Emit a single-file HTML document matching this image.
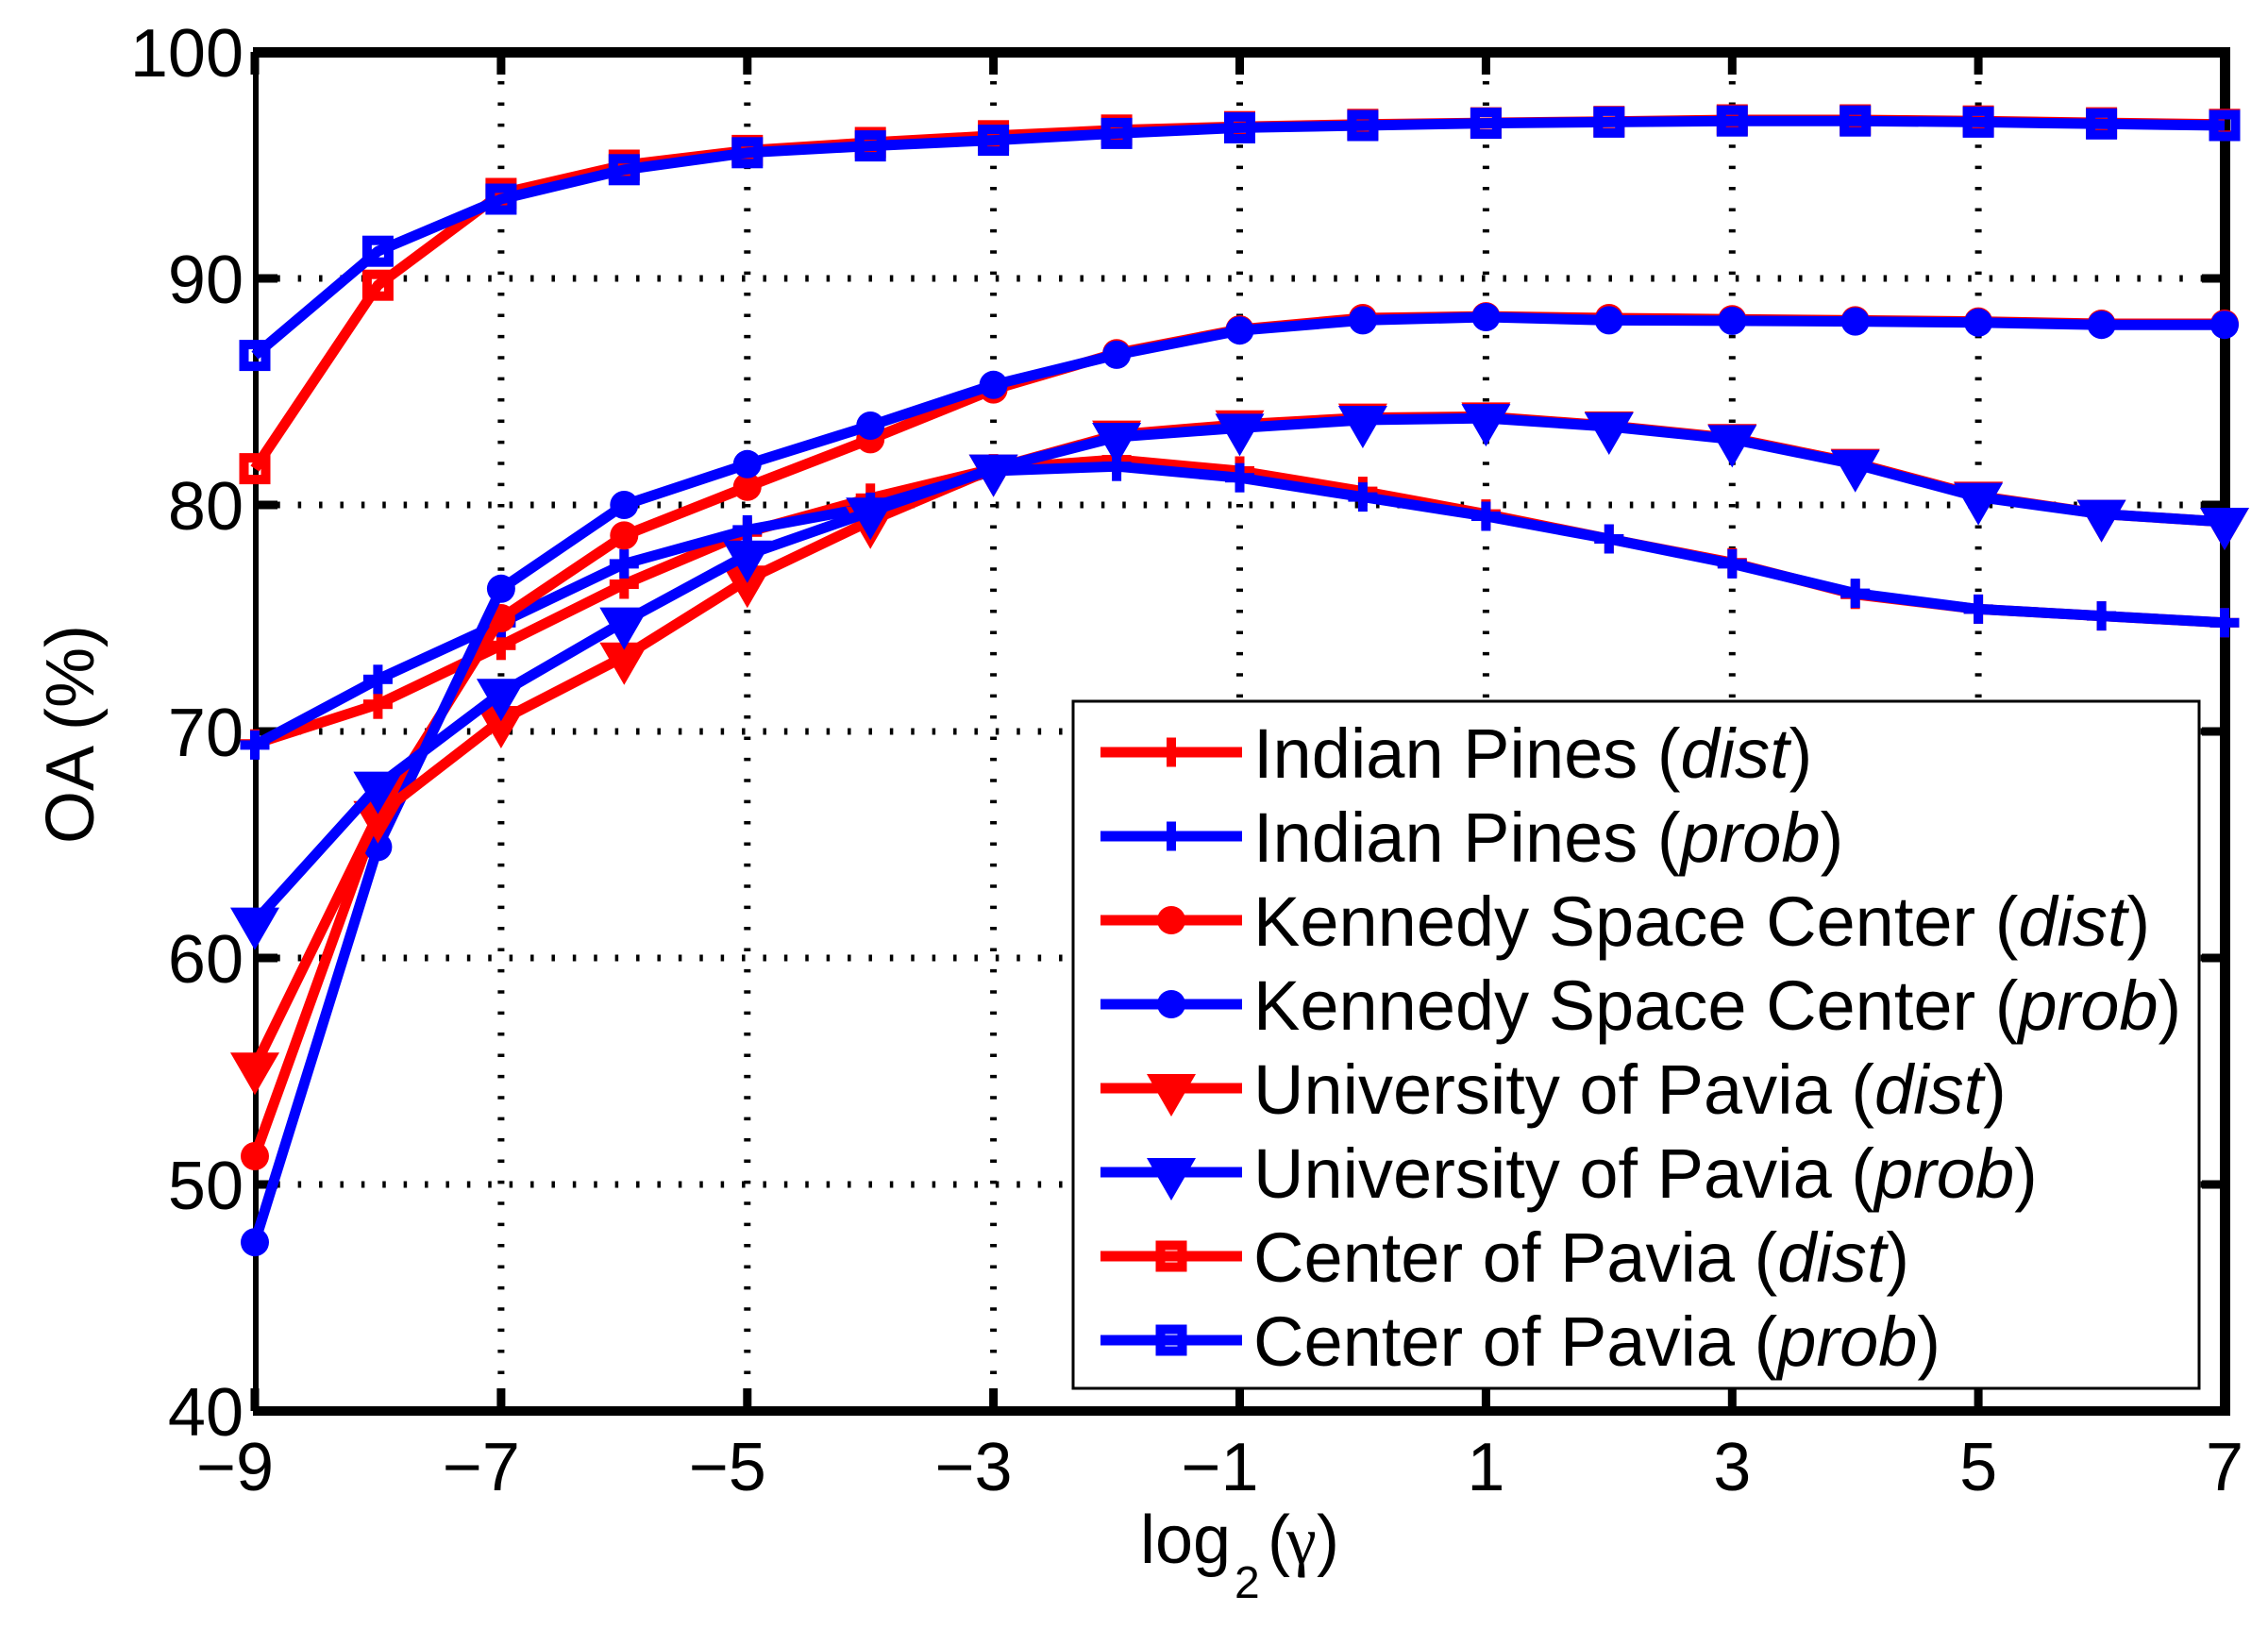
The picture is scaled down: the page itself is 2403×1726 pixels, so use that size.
<!DOCTYPE html>
<html><head><meta charset="utf-8"><style>
html,body{margin:0;padding:0;background:#fff;}
svg{display:block;}
text{font-family:"Liberation Sans",Arial,sans-serif;fill:#000;}
</style></head><body>
<svg width="2403" height="1726" viewBox="0 0 2403 1726" xmlns="http://www.w3.org/2000/svg">
<defs>
<g id="plus"><rect x="-5" y="-15.5" width="10" height="31"/><rect x="-15.5" y="-5" width="31" height="10"/></g>
<circle id="circ" r="15"/>
<path id="tri" d="M-26,-15 L26,-15 L0,30 Z"/>
<rect id="sq" x="-11.5" y="-11.5" width="23" height="23" fill="none" stroke-width="10"/>
</defs>
<rect width="2403" height="1726" fill="#fff"/>

<!-- grid -->
<g stroke="#000" stroke-width="7" stroke-dasharray="3.5 18.9" fill="none">
<path d="M530.9,63.65V1488 M791.8,63.65V1488 M1052.6,63.65V1488 M1313.5,63.65V1488 M1574.4,63.65V1488 M1835.3,63.65V1488 M2096.1,63.65V1488"/>
<path d="M293.25,1255H2350 M293.25,1015H2350 M293.25,775H2350 M293.25,535H2350 M293.25,295H2350"/>
</g>

<!-- frame -->
<g fill="#000">
<rect x="268" y="50" width="2095" height="11"/>
<rect x="268" y="1490" width="2095" height="10"/>
<rect x="268" y="50" width="6" height="1450"/>
<rect x="2352" y="50" width="11" height="1450"/>
<!-- x ticks -->
<rect x="265.5" y="1471" width="9" height="24"/><rect x="526.4" y="1471" width="9" height="24"/><rect x="787.3" y="1471" width="9" height="24"/><rect x="1048.1" y="1471" width="9" height="24"/><rect x="1309" y="1471" width="9" height="24"/><rect x="1569.9" y="1471" width="9" height="24"/><rect x="1830.8" y="1471" width="9" height="24"/><rect x="2091.6" y="1471" width="9" height="24"/><rect x="2352.5" y="1471" width="9" height="24"/>
<rect x="265.5" y="55" width="9" height="24"/><rect x="526.4" y="55" width="9" height="24"/><rect x="787.3" y="55" width="9" height="24"/><rect x="1048.1" y="55" width="9" height="24"/><rect x="1309" y="55" width="9" height="24"/><rect x="1569.9" y="55" width="9" height="24"/><rect x="1830.8" y="55" width="9" height="24"/><rect x="2091.6" y="55" width="9" height="24"/><rect x="2352.5" y="55" width="9" height="24"/>
<!-- y ticks -->
<rect x="270" y="50.5" width="24" height="9"/><rect x="270" y="290.5" width="24" height="9"/><rect x="270" y="530.5" width="24" height="9"/><rect x="270" y="770.5" width="24" height="9"/><rect x="270" y="1010.5" width="24" height="9"/><rect x="270" y="1250.5" width="24" height="9"/><rect x="270" y="1490.5" width="24" height="9"/>
<rect x="2333" y="50.5" width="24" height="9"/><rect x="2333" y="290.5" width="24" height="9"/><rect x="2333" y="530.5" width="24" height="9"/><rect x="2333" y="770.5" width="24" height="9"/><rect x="2333" y="1010.5" width="24" height="9"/><rect x="2333" y="1250.5" width="24" height="9"/><rect x="2333" y="1490.5" width="24" height="9"/>
</g>

<!-- tick labels -->
<g font-size="72" text-anchor="end">
<text x="258" y="81">100</text>
<text x="258" y="321">90</text>
<text x="258" y="561">80</text>
<text x="258" y="801">70</text>
<text x="258" y="1041">60</text>
<text x="258" y="1281">50</text>
<text x="258" y="1521">40</text>
<text x="290" y="1579">−9</text>
<text x="550.9" y="1579">−7</text>
<text x="811.8" y="1579">−5</text>
<text x="1072.6" y="1579">−3</text>
<text x="1333.5" y="1579">−1</text>
</g>
<g font-size="72" text-anchor="middle">
<text x="1574.4" y="1579">1</text>
<text x="1835.3" y="1579">3</text>
<text x="2096.1" y="1579">5</text>
<text x="2357" y="1579">7</text>
</g>

<!-- axis labels -->
<text font-size="72"><tspan x="1208" y="1656">log</tspan><tspan x="1308" y="1693" font-size="48">2</tspan><tspan x="1343" y="1656">(</tspan><tspan x="1363" y="1656" style="font-family:'Liberation Serif',serif">γ</tspan><tspan x="1395" y="1656">)</tspan></text>
<text font-size="72" text-anchor="middle" transform="translate(99,778) rotate(-90)">OA (%)</text>

<!-- series -->
<g fill="none" stroke-width="11" stroke-linejoin="round">
<!-- Indian Pines dist -->
<polyline stroke="#f00" points="270,788.2 400.4,746.2 530.9,683.8 661.3,619 791.8,563.8 922.2,527.8 1052.6,496.6 1183.1,487 1313.5,499 1443.9,520.6 1574.4,544.6 1704.8,571 1835.3,596.2 1965.7,629.8 2096.1,645.4 2226.6,652.6 2357,659.8"/>
</g>
<g fill="#f00">
<use href="#plus" x="270" y="788.2"/><use href="#plus" x="400.4" y="746.2"/><use href="#plus" x="530.9" y="683.8"/><use href="#plus" x="661.3" y="619"/><use href="#plus" x="791.8" y="563.8"/><use href="#plus" x="922.2" y="527.8"/><use href="#plus" x="1052.6" y="496.6"/><use href="#plus" x="1183.1" y="487"/><use href="#plus" x="1313.5" y="499"/><use href="#plus" x="1443.9" y="520.6"/><use href="#plus" x="1574.4" y="544.6"/><use href="#plus" x="1704.8" y="571"/><use href="#plus" x="1835.3" y="596.2"/><use href="#plus" x="1965.7" y="629.8"/><use href="#plus" x="2096.1" y="645.4"/><use href="#plus" x="2226.6" y="652.6"/><use href="#plus" x="2357" y="659.8"/>
</g>
<!-- Indian Pines prob -->
<polyline fill="none" stroke-width="11" stroke-linejoin="round" stroke="#00f" points="270,789.4 400.4,719.8 530.9,659.8 661.3,597.4 791.8,561.4 922.2,537.4 1052.6,499 1183.1,494.2 1313.5,506.2 1443.9,526.6 1574.4,547 1704.8,571 1835.3,597.4 1965.7,628.6 2096.1,645.4 2226.6,652.6 2357,659.8"/>
<g fill="#00f">
<use href="#plus" x="270" y="789.4"/><use href="#plus" x="400.4" y="719.8"/><use href="#plus" x="530.9" y="659.8"/><use href="#plus" x="661.3" y="597.4"/><use href="#plus" x="791.8" y="561.4"/><use href="#plus" x="922.2" y="537.4"/><use href="#plus" x="1052.6" y="499"/><use href="#plus" x="1183.1" y="494.2"/><use href="#plus" x="1313.5" y="506.2"/><use href="#plus" x="1443.9" y="526.6"/><use href="#plus" x="1574.4" y="547"/><use href="#plus" x="1704.8" y="571"/><use href="#plus" x="1835.3" y="597.4"/><use href="#plus" x="1965.7" y="628.6"/><use href="#plus" x="2096.1" y="645.4"/><use href="#plus" x="2226.6" y="652.6"/><use href="#plus" x="2357" y="659.8"/>
</g>
<!-- KSC dist -->
<polyline fill="none" stroke-width="11" stroke-linejoin="round" stroke="#f00" points="270,1225 400.4,863.8 530.9,655 661.3,567.4 791.8,515.8 922.2,465.4 1052.6,412.6 1183.1,374.2 1313.5,349 1443.9,337 1574.4,335.1 1704.8,337 1835.3,338.2 1965.7,339.4 2096.1,340.6 2226.6,343 2357,343"/>
<g fill="#f00">
<use href="#circ" x="270" y="1225"/><use href="#circ" x="400.4" y="863.8"/><use href="#circ" x="530.9" y="655"/><use href="#circ" x="661.3" y="567.4"/><use href="#circ" x="791.8" y="515.8"/><use href="#circ" x="922.2" y="465.4"/><use href="#circ" x="1052.6" y="412.6"/><use href="#circ" x="1183.1" y="374.2"/><use href="#circ" x="1313.5" y="349"/><use href="#circ" x="1443.9" y="337"/><use href="#circ" x="1574.4" y="335.1"/><use href="#circ" x="1704.8" y="337"/><use href="#circ" x="1835.3" y="338.2"/><use href="#circ" x="1965.7" y="339.4"/><use href="#circ" x="2096.1" y="340.6"/><use href="#circ" x="2226.6" y="343"/><use href="#circ" x="2357" y="343"/>
</g>
<!-- KSC prob -->
<polyline fill="none" stroke-width="11" stroke-linejoin="round" stroke="#00f" points="270,1316.2 400.4,897.4 530.9,623.8 661.3,535 791.8,491.8 922.2,451 1052.6,407.8 1183.1,375.9 1313.5,350.2 1443.9,339.4 1574.4,336 1704.8,339.4 1835.3,339.9 1965.7,340.6 2096.1,341.8 2226.6,344.2 2357,344.2"/>
<g fill="#00f">
<use href="#circ" x="270" y="1316.2"/><use href="#circ" x="400.4" y="897.4"/><use href="#circ" x="530.9" y="623.8"/><use href="#circ" x="661.3" y="535"/><use href="#circ" x="791.8" y="491.8"/><use href="#circ" x="922.2" y="451"/><use href="#circ" x="1052.6" y="407.8"/><use href="#circ" x="1183.1" y="375.9"/><use href="#circ" x="1313.5" y="350.2"/><use href="#circ" x="1443.9" y="339.4"/><use href="#circ" x="1574.4" y="336"/><use href="#circ" x="1704.8" y="339.4"/><use href="#circ" x="1835.3" y="339.9"/><use href="#circ" x="1965.7" y="340.6"/><use href="#circ" x="2096.1" y="341.8"/><use href="#circ" x="2226.6" y="344.2"/><use href="#circ" x="2357" y="344.2"/>
</g>
<!-- UP dist -->
<polyline fill="none" stroke-width="11" stroke-linejoin="round" stroke="#f00" points="270,1130.2 400.4,863.8 530.9,763 661.3,695.8 791.8,614.2 922.2,551.8 1052.6,496.6 1183.1,460.6 1313.5,449.8 1443.9,442.6 1574.4,441.4 1704.8,451 1835.3,464.2 1965.7,490.6 2096.1,525.4 2226.6,544.6 2357,553"/>
<g fill="#f00">
<use href="#tri" x="270" y="1130.2"/><use href="#tri" x="400.4" y="863.8"/><use href="#tri" x="530.9" y="763"/><use href="#tri" x="661.3" y="695.8"/><use href="#tri" x="791.8" y="614.2"/><use href="#tri" x="922.2" y="551.8"/><use href="#tri" x="1052.6" y="496.6"/><use href="#tri" x="1183.1" y="460.6"/><use href="#tri" x="1313.5" y="449.8"/><use href="#tri" x="1443.9" y="442.6"/><use href="#tri" x="1574.4" y="441.4"/><use href="#tri" x="1704.8" y="451"/><use href="#tri" x="1835.3" y="464.2"/><use href="#tri" x="1965.7" y="490.6"/><use href="#tri" x="2096.1" y="525.4"/><use href="#tri" x="2226.6" y="544.6"/><use href="#tri" x="2357" y="553"/>
</g>
<!-- UP prob -->
<polyline fill="none" stroke-width="11" stroke-linejoin="round" stroke="#00f" points="270,976.6 400.4,832.6 530.9,734.2 661.3,658.6 791.8,587.8 922.2,542.2 1052.6,496.6 1183.1,463 1313.5,453.4 1443.9,445 1574.4,443.1 1704.8,452 1835.3,465.4 1965.7,491.8 2096.1,526.6 2226.6,544.6 2357,553"/>
<g fill="#00f">
<use href="#tri" x="270" y="976.6"/><use href="#tri" x="400.4" y="832.6"/><use href="#tri" x="530.9" y="734.2"/><use href="#tri" x="661.3" y="658.6"/><use href="#tri" x="791.8" y="587.8"/><use href="#tri" x="922.2" y="542.2"/><use href="#tri" x="1052.6" y="496.6"/><use href="#tri" x="1183.1" y="463"/><use href="#tri" x="1313.5" y="453.4"/><use href="#tri" x="1443.9" y="445"/><use href="#tri" x="1574.4" y="443.1"/><use href="#tri" x="1704.8" y="452"/><use href="#tri" x="1835.3" y="465.4"/><use href="#tri" x="1965.7" y="491.8"/><use href="#tri" x="2096.1" y="526.6"/><use href="#tri" x="2226.6" y="544.6"/><use href="#tri" x="2357" y="553"/>
</g>
<!-- CP dist -->
<polyline fill="none" stroke-width="11" stroke-linejoin="round" stroke="#f00" points="270,496.6 400.4,302.2 530.9,205 661.3,175 791.8,159.4 922.2,151 1052.6,143.8 1183.1,137.8 1313.5,134.2 1443.9,131.8 1574.4,130.1 1704.8,128.7 1835.3,127 1965.7,127 2096.1,128.2 2226.6,130.1 2357,131.8"/>
<g stroke="#f00">
<use href="#sq" x="270" y="496.6"/><use href="#sq" x="400.4" y="302.2"/><use href="#sq" x="530.9" y="205"/><use href="#sq" x="661.3" y="175"/><use href="#sq" x="791.8" y="159.4"/><use href="#sq" x="922.2" y="151"/><use href="#sq" x="1052.6" y="143.8"/><use href="#sq" x="1183.1" y="137.8"/><use href="#sq" x="1313.5" y="134.2"/><use href="#sq" x="1443.9" y="131.8"/><use href="#sq" x="1574.4" y="130.1"/><use href="#sq" x="1704.8" y="128.7"/><use href="#sq" x="1835.3" y="127"/><use href="#sq" x="1965.7" y="127"/><use href="#sq" x="2096.1" y="128.2"/><use href="#sq" x="2226.6" y="130.1"/><use href="#sq" x="2357" y="131.8"/>
</g>
<!-- CP prob -->
<polyline fill="none" stroke-width="11" stroke-linejoin="round" stroke="#00f" points="270,376.6 400.4,266.2 530.9,211 661.3,179.8 791.8,161.8 922.2,154.6 1052.6,148.6 1183.1,141.4 1313.5,135.4 1443.9,133 1574.4,130.6 1704.8,129.4 1835.3,128.2 1965.7,128.2 2096.1,129.4 2226.6,131.3 2357,133"/>
<g stroke="#00f">
<use href="#sq" x="270" y="376.6"/><use href="#sq" x="400.4" y="266.2"/><use href="#sq" x="530.9" y="211"/><use href="#sq" x="661.3" y="179.8"/><use href="#sq" x="791.8" y="161.8"/><use href="#sq" x="922.2" y="154.6"/><use href="#sq" x="1052.6" y="148.6"/><use href="#sq" x="1183.1" y="141.4"/><use href="#sq" x="1313.5" y="135.4"/><use href="#sq" x="1443.9" y="133"/><use href="#sq" x="1574.4" y="130.6"/><use href="#sq" x="1704.8" y="129.4"/><use href="#sq" x="1835.3" y="128.2"/><use href="#sq" x="1965.7" y="128.2"/><use href="#sq" x="2096.1" y="129.4"/><use href="#sq" x="2226.6" y="131.3"/><use href="#sq" x="2357" y="133"/>
</g>

<!-- legend -->
<rect x="1137" y="743" width="1193" height="728" fill="#fff" stroke="#000" stroke-width="3"/>
<g stroke-width="11">
<line x1="1166" y1="797" x2="1316" y2="797" stroke="#f00"/>
<line x1="1166" y1="886" x2="1316" y2="886" stroke="#00f"/>
<line x1="1166" y1="975" x2="1316" y2="975" stroke="#f00"/>
<line x1="1166" y1="1064" x2="1316" y2="1064" stroke="#00f"/>
<line x1="1166" y1="1153" x2="1316" y2="1153" stroke="#f00"/>
<line x1="1166" y1="1242" x2="1316" y2="1242" stroke="#00f"/>
<line x1="1166" y1="1331" x2="1316" y2="1331" stroke="#f00"/>
<line x1="1166" y1="1420" x2="1316" y2="1420" stroke="#00f"/>
</g>
<use href="#plus" x="1241" y="797" fill="#f00"/>
<use href="#plus" x="1241" y="886" fill="#00f"/>
<use href="#circ" x="1241" y="975" fill="#f00"/>
<use href="#circ" x="1241" y="1064" fill="#00f"/>
<use href="#tri" x="1241" y="1153" fill="#f00"/>
<use href="#tri" x="1241" y="1242" fill="#00f"/>
<use href="#sq" x="1241" y="1331" stroke="#f00"/>
<use href="#sq" x="1241" y="1420" stroke="#00f"/>
<g font-size="74">
<text x="1328" y="824">Indian Pines (<tspan font-style="italic">dist</tspan>)</text>
<text x="1328" y="913">Indian Pines (<tspan font-style="italic">prob</tspan>)</text>
<text x="1328" y="1002">Kennedy Space Center (<tspan font-style="italic">dist</tspan>)</text>
<text x="1328" y="1091">Kennedy Space Center (<tspan font-style="italic">prob</tspan>)</text>
<text x="1328" y="1180">University of Pavia (<tspan font-style="italic">dist</tspan>)</text>
<text x="1328" y="1269">University of Pavia (<tspan font-style="italic">prob</tspan>)</text>
<text x="1328" y="1358">Center of Pavia (<tspan font-style="italic">dist</tspan>)</text>
<text x="1328" y="1447">Center of Pavia (<tspan font-style="italic">prob</tspan>)</text>
</g>
</svg>
</body></html>
